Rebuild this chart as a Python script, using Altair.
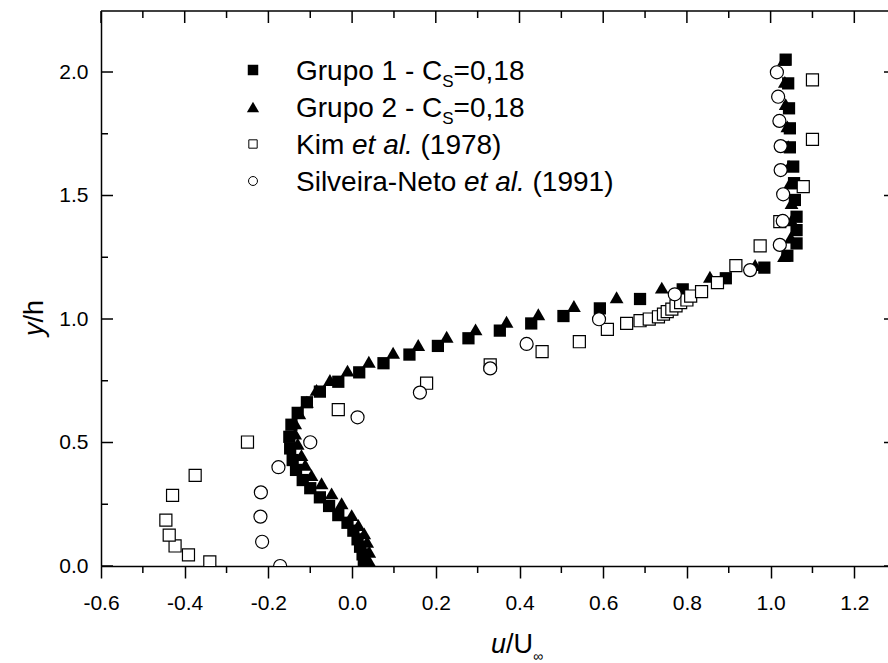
import altair as alt
import pandas as pd

# ---------------- data ----------------
g1_u = [0.028, 0.025, 0.019, 0.013, 0.003, -0.011, -0.033, -0.055, -0.077, -0.100,
        -0.118, -0.134, -0.142, -0.148, -0.150, -0.145, -0.130, -0.108, -0.077, -0.033,
        0.017, 0.075, 0.137, 0.205, 0.278, 0.353, 0.428, 0.505, 0.592, 0.688,
        0.790, 0.893, 0.985, 1.040, 1.062, 1.062, 1.062, 1.058, 1.056, 1.054,
        1.046, 1.046, 1.044, 1.042, 1.036]
g1_v = [0.013, 0.047, 0.078, 0.108, 0.143, 0.175, 0.206, 0.243, 0.278, 0.315,
        0.348, 0.389, 0.429, 0.476, 0.523, 0.572, 0.620, 0.663, 0.706, 0.746,
        0.784, 0.821, 0.856, 0.891, 0.922, 0.953, 0.982, 1.012, 1.043, 1.081,
        1.120, 1.165, 1.208, 1.256, 1.306, 1.360, 1.414, 1.482, 1.550, 1.617,
        1.695, 1.772, 1.853, 1.954, 2.050]

g2_u = [0.041, 0.041, 0.036, 0.029, 0.015, -0.001, -0.025, -0.049, -0.073, -0.097,
        -0.112, -0.121, -0.130, -0.136, -0.136, -0.126, -0.108, -0.085, -0.053, -0.011,
        0.040, 0.098, 0.158, 0.226, 0.295, 0.369, 0.445, 0.530, 0.632, 0.740,
        0.855, 0.963, 1.032, 1.048, 1.050, 1.050, 1.046, 1.044, 1.042, 1.040,
        1.036, 1.034, 1.032]
g2_v = [0.020, 0.058, 0.098, 0.132, 0.166, 0.206, 0.254, 0.294, 0.335, 0.368,
        0.410, 0.449, 0.495, 0.536, 0.578, 0.618, 0.665, 0.713, 0.753, 0.791,
        0.827, 0.863, 0.895, 0.928, 0.958, 0.989, 1.019, 1.053, 1.088, 1.127,
        1.171, 1.219, 1.255, 1.330, 1.400, 1.470, 1.550, 1.620, 1.700, 1.780,
        1.870, 1.960, 2.050]

kim_u = [-0.340, -0.391, -0.423, -0.437, -0.445, -0.429, -0.375, -0.250, -0.033, 0.178,
         0.330, 0.454, 0.543, 0.610, 0.656, 0.688, 0.710, 0.732, 0.744, 0.753,
         0.764, 0.774, 0.785, 0.800, 0.809, 0.835, 0.873, 0.917, 0.975, 1.022,
         1.078, 1.100, 1.100]
kim_v = [0.017, 0.045, 0.081, 0.125, 0.186, 0.286, 0.367, 0.502, 0.633, 0.740,
         0.814, 0.868, 0.908, 0.958, 0.982, 0.993, 1.000, 1.009, 1.020, 1.030,
         1.040, 1.053, 1.066, 1.077, 1.093, 1.111, 1.147, 1.216, 1.296, 1.394,
         1.536, 1.727, 1.968]

sil_u = [-0.172, -0.215, -0.219, -0.218, -0.176, -0.100, 0.013, 0.162, 0.330, 0.417,
         0.590, 0.771, 0.951, 1.022, 1.029, 1.030, 1.024, 1.024, 1.021, 1.018, 1.015]
sil_v = [0.000, 0.098, 0.200, 0.298, 0.400, 0.501, 0.602, 0.702, 0.800, 0.899,
         0.999, 1.100, 1.198, 1.300, 1.397, 1.505, 1.603, 1.700, 1.802, 1.900, 1.999]

x_major = [-0.6, -0.4, -0.2, 0.0, 0.2, 0.4, 0.6, 0.8, 1.0, 1.2]
x_minor = [-0.5, -0.3, -0.1, 0.1, 0.3, 0.5, 0.7, 0.9, 1.1]
y_major = [0.0, 0.5, 1.0, 1.5, 2.0]
y_minor = [0.25, 0.75, 1.25, 1.75]

# ---------------- layout ----------------
W, H = 787, 555
X_DOM = [-0.6, 1.2805]
Y_DOM = [0.0, 2.247]
FONT = "Liberation Sans, Arial, Helvetica, sans-serif"
LW = 1.5

xs = alt.Scale(domain=X_DOM, nice=False, zero=False)
ys = alt.Scale(domain=Y_DOM, nice=False, zero=False)

AW = {' ': 278, '(': 333, ')': 333, ',': 278, '-': 333, '.': 278, '/': 278, '=': 584,
      'C': 722, 'G': 778, 'K': 667, 'N': 722, 'S': 667, 'U': 722,
      'a': 556, 'e': 556, 'h': 556, 'i': 222, 'l': 222, 'm': 833, 'o': 556, 'p': 556,
      'r': 333, 't': 278, 'u': 556, 'v': 500, 'y': 500}


def tw(s, size):
    return sum(AW.get(c, 556) for c in s) * size / 1000.0


one = pd.DataFrame({"k": [0]})


def txt(s, x, y, size, italic=False, angle=0):
    kw = dict(text=s, font=FONT, fontSize=size, color="black", align="left",
              baseline="alphabetic")
    if italic:
        kw["fontStyle"] = "italic"
    if angle:
        kw["angle"] = angle
    return alt.Chart(one).mark_text(**kw).encode(x=alt.value(x), y=alt.value(y))


def df(u, v):
    return pd.DataFrame({"u": u, "v": v})


x_axis = alt.Axis(values=x_major, title=None, grid=False, tickSize=12, tickWidth=LW,
                  tickColor="black", domainColor="black", domainWidth=LW,
                  labelFont=FONT, labelFontSize=21, labelColor="black", labelPadding=14,
                  labelFlush=False, labelOverlap=False,
                  labelExpr="datum.value < 0 ? '-' + format(-datum.value, '.1f') : format(datum.value, '.1f')")
y_axis = alt.Axis(values=y_major, title=None, grid=False, ticks=False, tickSize=0,
                  domainColor="black", domainWidth=LW,
                  labelFont=FONT, labelFontSize=21, labelColor="black", labelPadding=13,
                  labelFlush=False, labelOverlap=False, format=".1f")

XE = alt.X("u:Q", scale=xs, axis=x_axis)
YE = alt.Y("v:Q", scale=ys, axis=y_axis)

sq = alt.Chart(df(g1_u, g1_v)).mark_point(
    shape="square", filled=True, color="black", size=150, opacity=1, clip=True
).encode(x=XE, y=YE)

tri = alt.Chart(df(g2_u, g2_v)).mark_point(
    shape="triangle-up", filled=True, color="black", size=190, opacity=1, clip=True
).encode(x=XE, y=YE)

kim = alt.Chart(df(kim_u, kim_v)).mark_point(
    shape="square", filled=True, fill="white", stroke="black", strokeWidth=1.2,
    size=145, opacity=1, clip=True
).encode(x=XE, y=YE)

sil = alt.Chart(df(sil_u, sil_v)).mark_point(
    shape="circle", filled=True, fill="white", stroke="black", strokeWidth=1.2,
    size=170, opacity=1, clip=True
).encode(x=XE, y=YE)

# ---------------- ticks / frame ----------------
def xticks(vals, y0, y1):
    return alt.Chart(pd.DataFrame({"u": vals})).mark_rule(color="black", strokeWidth=LW).encode(
        x=XE, y=alt.value(y0), y2=alt.value(y1))


def yticks(vals, x0, x1):
    return alt.Chart(pd.DataFrame({"v": vals})).mark_rule(color="black", strokeWidth=LW).encode(
        y=YE, x=alt.value(x0), x2=alt.value(x1))


frame_top = alt.Chart(one).mark_rule(color="black", strokeWidth=LW).encode(
    x=alt.value(0), x2=alt.value(W), y=alt.value(0))

ticks = [
    xticks(x_minor, H, H + 7),
    xticks(x_major, 0, 12),
    xticks(x_minor, 0, 7),
    yticks(y_major, 0, 12),
    yticks(y_minor, 0, 7),
    yticks(y_major, W - 4, W),
    frame_top,
]

# ---------------- legend ----------------
LF = 28
SF = 17
lx_mark = 152
lx_text = 195
rows = [59, 96, 133, 170]
base = [r + 0.35 * LF for r in rows]

leg = []
leg.append(alt.Chart(one).mark_point(shape="square", filled=True, color="black", size=110, opacity=1)
           .encode(x=alt.value(lx_mark), y=alt.value(rows[0])))
leg.append(alt.Chart(one).mark_point(shape="triangle-up", filled=True, color="black", size=150, opacity=1)
           .encode(x=alt.value(lx_mark), y=alt.value(rows[1])))
leg.append(alt.Chart(one).mark_point(shape="square", filled=True, fill="white", stroke="black",
                                      strokeWidth=1.0, size=70, opacity=1)
           .encode(x=alt.value(lx_mark), y=alt.value(rows[2])))
leg.append(alt.Chart(one).mark_point(shape="circle", filled=True, fill="white", stroke="black",
                                      strokeWidth=1.0, size=80, opacity=1)
           .encode(x=alt.value(lx_mark), y=alt.value(rows[3])))

for i, lab in enumerate(["Grupo 1 - C", "Grupo 2 - C"]):
    b = base[i]
    leg.append(txt(lab, lx_text, b, LF))
    x1 = lx_text + tw(lab, LF)
    leg.append(txt("S", x1, b + 7, SF))
    leg.append(txt("=0,18", x1 + tw("S", SF), b, LF))

for i, (a, c) in enumerate([("Kim", "(1978)"), ("Silveira-Neto", "(1991)")]):
    b = base[2 + i]
    leg.append(txt(a, lx_text, b, LF))
    x1 = lx_text + tw(a + " ", LF)
    leg.append(txt("et al.", x1, b, LF, italic=True))
    leg.append(txt(c, x1 + tw("et al. ", LF), b, LF))

# ---------------- axis titles ----------------
TF = 27
xt_total = tw("u/U", TF)
xt0 = 411 - xt_total / 2
xb = 642
titles = [
    txt("u", xt0, xb, TF, italic=True),
    txt("/U", xt0 + tw("u", TF), xb, TF),
    txt("\u221e", xt0 + tw("u/U", TF), xb + 8, 14),
]
yt_total = tw("y/h", TF)
yb_x = -58
yc = 307
ys0 = yc + yt_total / 2
titles += [
    txt("y", yb_x, ys0, TF, italic=True, angle=270),
    txt("/h", yb_x, ys0 - tw("y", TF), TF, angle=270),
]

chart = alt.layer(sq, tri, kim, sil, *ticks, *leg, *titles).properties(
    width=W, height=H,
    padding={"left": 101, "top": 11, "right": 0, "bottom": 97},
    autosize=alt.AutoSizeParams(type="none"),
    background="white",
).configure_view(strokeWidth=0)

chart.save("out.html", embed_options={"renderer": "svg", "actions": False})
